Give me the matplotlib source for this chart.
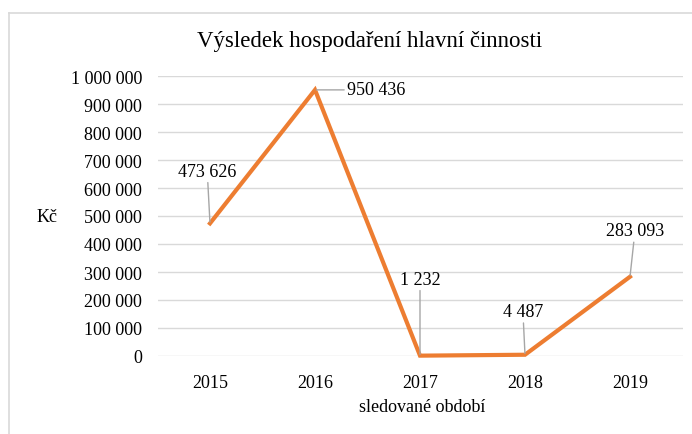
import matplotlib
matplotlib.use("Agg")
import matplotlib.pyplot as plt
from matplotlib.lines import Line2D
from matplotlib.ticker import FuncFormatter, MultipleLocator

years = ["2015", "2016", "2017", "2018", "2019"]
values = [473626, 950436, 1232, 4487, 283093]
title = "Výsledek hospodaření hlavní činnosti"
xlabel = "sledované období"
ylabel = "Kč"

plt.rcParams['font.family'] = ['Liberation Serif', 'DejaVu Serif']

W, H = 692, 435
fig = plt.figure(figsize=(W / 100, H / 100), dpi=100)
ax = fig.add_axes([157.5 / W, 1 - 357 / H, (682.5 - 157.5) / W, (357 - 77) / H])

x = list(range(len(years)))
ax.plot(x, values, color="#ED7D31", lw=3, solid_joinstyle="miter", zorder=3, clip_on=False)
ax.set_xlim(-0.5, len(years) - 0.5)
ax.set_ylim(0, 1000000)
ax.yaxis.set_major_locator(MultipleLocator(100000))
ax.yaxis.set_major_formatter(FuncFormatter(lambda v, p: f"{v:,.0f}".replace(",", " ")))
ax.set_xticks(x)
ax.set_xticklabels(years)
ax.grid(axis="y", color="#D9D9D9", lw=1)
ax.set_axisbelow(True)
for s in ax.spines.values():
    s.set_visible(False)
ax.tick_params(length=0, labelsize=13, colors="#000000")
ax.tick_params(axis="x", pad=13)
ax.tick_params(axis="y", pad=11)

# data labels with leader lines (offsets in points, to label centre)
offsets = [(-2, 37.5), (23, 0), (0, 55), (-1.5, 31), (3.6, 33)]
has = ["center", "left", "center", "center", "center"]
for xi, v, (dx, dy), ha in zip(x, values, offsets, has):
    ax.annotate(f"{v:,.0f}".replace(",", " "), xy=(xi, v), xytext=(dx, dy),
                textcoords="offset points", ha=ha, va="center",
                fontsize=13,
                arrowprops=dict(arrowstyle="-", color="#A6A6A6", lw=1,
                                shrinkA=0, shrinkB=1), zorder=4,
                annotation_clip=False)

fig.text(370 / W, 1 - 42 / H, title, ha="center", va="center", fontsize=16.5)
fig.text(422 / W, 1 - 408 / H, xlabel, ha="center", va="center", fontsize=13)
fig.text(47 / W, 1 - 217 / H, ylabel, ha="center", va="center", fontsize=13)

# outer chart frame
fig.add_artist(Line2D([9 / W, 9 / W], [0, 1 - 14 / H], color="#D9D9D9", lw=1.2))
fig.add_artist(Line2D([9 / W, 1], [1 - 14 / H, 1 - 14 / H], color="#D9D9D9", lw=1.2))

fig.savefig("out.png", dpi=100)
